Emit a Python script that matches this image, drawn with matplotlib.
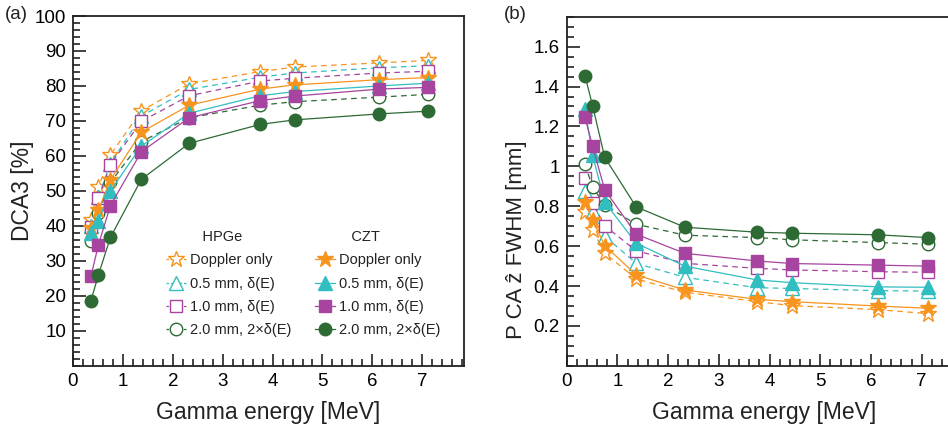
import matplotlib
matplotlib.use("Agg")
import matplotlib.pyplot as plt
from matplotlib.lines import Line2D
from matplotlib.ticker import MultipleLocator

plt.rcParams["font.family"] = ["Liberation Sans", "DejaVu Sans"]

# gamma line energies [MeV]
energy = [0.36, 0.51, 0.75, 1.37, 2.33, 3.75, 4.44, 6.13, 7.12]

# (a) DCA3 [%]
dca_hpge_doppler = [41.7, 51.0, 60.3, 72.9, 80.6, 84.1, 85.4, 86.6, 87.3]
dca_hpge_05 = [40.0, 48.3, 57.8, 71.4, 79.0, 82.5, 83.7, 85.2, 85.8]
dca_hpge_10 = [39.6, 47.9, 57.5, 69.9, 77.2, 81.4, 82.2, 83.7, 84.2]
dca_hpge_20 = [35.6, 43.8, 52.4, 64.1, 70.9, 74.5, 75.5, 76.8, 77.6]
dca_czt_doppler = [39.3, 44.5, 53.2, 66.8, 74.5, 79.1, 80.3, 81.8, 82.4]
dca_czt_05 = [38.0, 41.5, 50.0, 62.8, 72.2, 77.2, 78.4, 80.0, 80.8]
dca_czt_10 = [25.6, 34.6, 45.8, 61.2, 70.9, 75.8, 77.1, 79.1, 79.6]
dca_czt_20 = [18.6, 26.0, 36.7, 53.3, 63.6, 69.0, 70.3, 72.0, 72.8]

# (b) FWHM [mm]
fwhm_hpge_doppler = [0.77, 0.68, 0.565, 0.436, 0.369, 0.322, 0.302, 0.282, 0.262]
fwhm_hpge_05 = [0.875, 0.775, 0.650, 0.514, 0.444, 0.392, 0.388, 0.377, 0.375]
fwhm_hpge_10 = [0.942, 0.815, 0.702, 0.577, 0.514, 0.489, 0.481, 0.472, 0.469]
fwhm_hpge_20 = [1.010, 0.896, 0.805, 0.710, 0.655, 0.643, 0.632, 0.618, 0.610]
fwhm_czt_doppler = [0.82, 0.73, 0.603, 0.456, 0.380, 0.334, 0.322, 0.300, 0.289]
fwhm_czt_05 = [1.285, 1.057, 0.820, 0.615, 0.500, 0.431, 0.417, 0.396, 0.394]
fwhm_czt_10 = [1.246, 1.100, 0.882, 0.660, 0.564, 0.526, 0.513, 0.505, 0.500]
fwhm_czt_20 = [1.455, 1.304, 1.045, 0.797, 0.695, 0.670, 0.665, 0.657, 0.643]

series_labels = ["Doppler only", "0.5 mm, δ(E)", "1.0 mm, δ(E)", "2.0 mm, 2×δ(E)"]
colors = ["#F7941E", "#31BEC1", "#A6449F", "#2D6A34"]
markers = ["*", "^", "s", "o"]
marker_sizes = [12, 9.5, 9, 9]

fig = plt.figure(figsize=(9.48, 4.26), dpi=100)
ax_a = fig.add_axes([0.0770, 0.1415, 0.4121, 0.8209])
ax_b = fig.add_axes([0.5978, 0.1411, 0.4172, 0.8197])

dashes = (4.5, 3.5)


def draw_panel(ax, hpge, czt):
    for i in range(4):
        ax.plot(energy, hpge[i], color=colors[i], lw=0.9, dashes=dashes,
                marker=markers[i], ms=marker_sizes[i], mfc="white",
                mec=colors[i], mew=1.0, zorder=2 + i * 0.1)
    for i in range(4):
        ax.plot(energy, czt[i], color=colors[i], lw=0.9, ls="-",
                marker=markers[i], ms=marker_sizes[i], mfc=colors[i],
                mec=colors[i], mew=1.0, zorder=3 + i * 0.1)


def style_axes(ax, xmax, ymax, ymajor, yminor):
    ax.set_xlim(0, xmax)
    ax.set_ylim(0, ymax)
    ax.xaxis.set_major_locator(MultipleLocator(1))
    ax.xaxis.set_minor_locator(MultipleLocator(0.2))
    ax.yaxis.set_major_locator(MultipleLocator(ymajor))
    ax.yaxis.set_minor_locator(MultipleLocator(yminor))
    ax.tick_params(which="both", direction="in", top=False, right=False,
                   labelsize=13.5, width=1.2, color="#222222", pad=5)
    ax.tick_params(which="major", length=9)
    ax.tick_params(which="minor", length=5)
    for spine in ax.spines.values():
        spine.set_linewidth(1.3)
        spine.set_color("#222222")
    ax.set_xlabel("Gamma energy [MeV]", fontsize=16.5, labelpad=8,
                  color="#222222")


draw_panel(ax_a,
           [dca_hpge_doppler, dca_hpge_05, dca_hpge_10, dca_hpge_20],
           [dca_czt_doppler, dca_czt_05, dca_czt_10, dca_czt_20])
draw_panel(ax_b,
           [fwhm_hpge_doppler, fwhm_hpge_05, fwhm_hpge_10, fwhm_hpge_20],
           [fwhm_czt_doppler, fwhm_czt_05, fwhm_czt_10, fwhm_czt_20])

style_axes(ax_a, 7.83, 100, 10, 2)
style_axes(ax_b, 7.8, 1.75, 0.2, 0.05)

ax_a.set_yticks([10, 20, 30, 40, 50, 60, 70, 80, 90, 100])
ax_a.set_ylabel("DCA3 [%]", fontsize=16.5, color="#222222")
ax_a.yaxis.set_label_coords(-0.1, 0.5)

ax_b.set_yticks([0.2, 0.4, 0.6, 0.8, 1.0, 1.2, 1.4, 1.6])
ax_b.set_yticklabels(["0.2", "0.4", "0.6", "0.8", "1", "1.2", "1.4", "1.6"])
ax_b.set_ylabel("P CA ẑ FWHM [mm]", fontsize=16, color="#222222")
ax_b.yaxis.set_label_coords(-0.1, 0.36)

# two-column legend: HPGe (open, dashed) and CZT (filled, solid)
blank = Line2D([], [], color="none")
hpge_handles = [blank]
czt_handles = [blank]
for i in range(4):
    hpge_handles.append(Line2D([], [], color=colors[i], lw=0.9,
                               dashes=(2, 1.5), marker=markers[i],
                               ms=marker_sizes[i], mfc="white",
                               mec=colors[i]))
    czt_handles.append(Line2D([], [], color=colors[i], lw=0.9, ls="-",
                              marker=markers[i], ms=marker_sizes[i],
                              mfc=colors[i], mec=colors[i]))
labels = ["   HPGe"] + series_labels + ["   CZT"] + series_labels
ax_a.legend(hpge_handles + czt_handles, labels, ncol=2, frameon=False,
            loc="lower left", bbox_to_anchor=(0.22, 0.06),
            fontsize=10.5, handlelength=1.4, handletextpad=0.25,
            labelspacing=0.64, columnspacing=1.6, borderpad=0,
            labelcolor="#222222")

fig.text(0.005, 0.965, "(a)", fontsize=13.5, color="#222222", va="center")
fig.text(0.532, 0.965, "(b)", fontsize=13.5, color="#222222", va="center")

fig.savefig("out.png", dpi=100)
